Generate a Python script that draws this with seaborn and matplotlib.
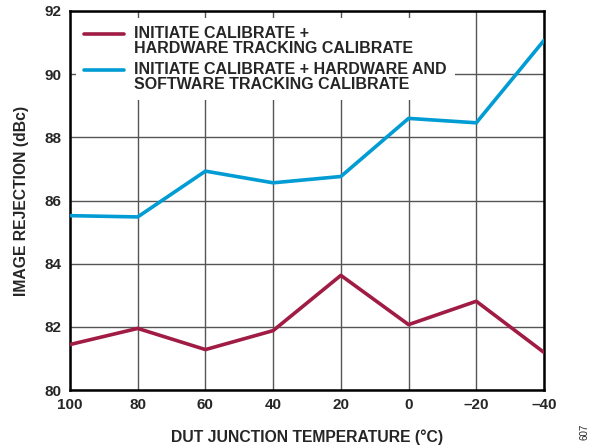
import matplotlib
matplotlib.use("Agg")
import matplotlib.pyplot as plt
from matplotlib.legend_handler import HandlerLine2D
import seaborn as sns
import pandas as pd
import numpy as np

temps = [100, 80, 60, 40, 20, 0, -20, -40]
hw_tracking = [81.44, 81.95, 81.28, 81.88, 83.63, 82.07, 82.81, 81.19]
hw_sw_tracking = [85.52, 85.48, 86.93, 86.56, 86.76, 88.60, 88.46, 91.07]
series_names = ["INITIATE CALIBRATE +\nHARDWARE TRACKING CALIBRATE",
                "INITIATE CALIBRATE + HARDWARE AND\nSOFTWARE TRACKING CALIBRATE"]
x_ticks = [100, 80, 60, 40, 20, 0, -20, -40]
x_ticklabels = ["100", "80", "60", "40", "20", "0", "\u201320", "\u201340"]
y_ticks = [80, 82, 84, 86, 88, 90, 92]

df = pd.concat([
    pd.DataFrame({"temp": temps, "val": hw_tracking, "series": series_names[0]}),
    pd.DataFrame({"temp": temps, "val": hw_sw_tracking, "series": series_names[1]}),
])

sns.set_style("white")
plt.rcParams['font.family'] = ['Liberation Sans', 'DejaVu Sans']
plt.rcParams['font.weight'] = 'bold'


class UpHandler(HandlerLine2D):
    def create_artists(self, legend, orig_handle, xdescent, ydescent, width,
                       height, fontsize, trans):
        arts = super().create_artists(legend, orig_handle, xdescent, ydescent,
                                      width, height, fontsize, trans)
        for a in arts:
            a.set_ydata(np.asarray(a.get_ydata()) + 5.5)
        return arts


fig = plt.figure(figsize=(5.96, 4.46), dpi=100)
ax = fig.add_axes([70/596, 56/446, 474/596, 379/446])

palette = {series_names[0]: "#A01C44", series_names[1]: "#009CD3"}
sns.lineplot(data=df, x="temp", y="val", hue="series", palette=palette,
             linewidth=2.6, ax=ax, zorder=3)

ax.set_xlim(100, -40)
ax.set_ylim(80, 92)
ax.set_xticks(x_ticks)
ax.set_xticklabels(x_ticklabels)
ax.set_yticks(y_ticks)
ax.grid(True, color="#555555", linewidth=1.0, zorder=0)
ax.set_axisbelow(True)
ax.tick_params(axis="both", direction="in", length=6, width=1, color="#555555",
               labelsize=11, pad=6)
for lab in ax.get_xticklabels() + ax.get_yticklabels():
    lab.set_fontweight("bold")
for s in ax.spines.values():
    s.set_color("black")
    s.set_linewidth(1.8)
    s.set_visible(True)

ax.set_xlabel("DUT JUNCTION TEMPERATURE (\u00b0C)", fontsize=11.3, fontweight="bold", labelpad=12)
ax.set_ylabel("IMAGE REJECTION (dBc)", fontsize=11.3, fontweight="bold", labelpad=11)

handles, labels = ax.get_legend_handles_labels()
leg = ax.legend(handles, labels, loc="upper left", bbox_to_anchor=(0.0127, 0.982),
                frameon=True, fancybox=False, framealpha=1.0, edgecolor="white",
                prop={"weight": "bold", "size": 11.5}, handlelength=2.5,
                handletextpad=0.63, labelspacing=0.4, borderpad=0.5,
                borderaxespad=0.0,
                handler_map={h: UpHandler() for h in handles})
leg.get_frame().set_linewidth(0)
leg.set_zorder(5)
for t in leg.get_texts():
    t.set_linespacing(1.0)

fig.text(584/596, 14/446, "607", rotation=90, fontsize=7, ha="center", va="center",
         fontweight="normal")

fig.savefig("out.png", dpi=100)
